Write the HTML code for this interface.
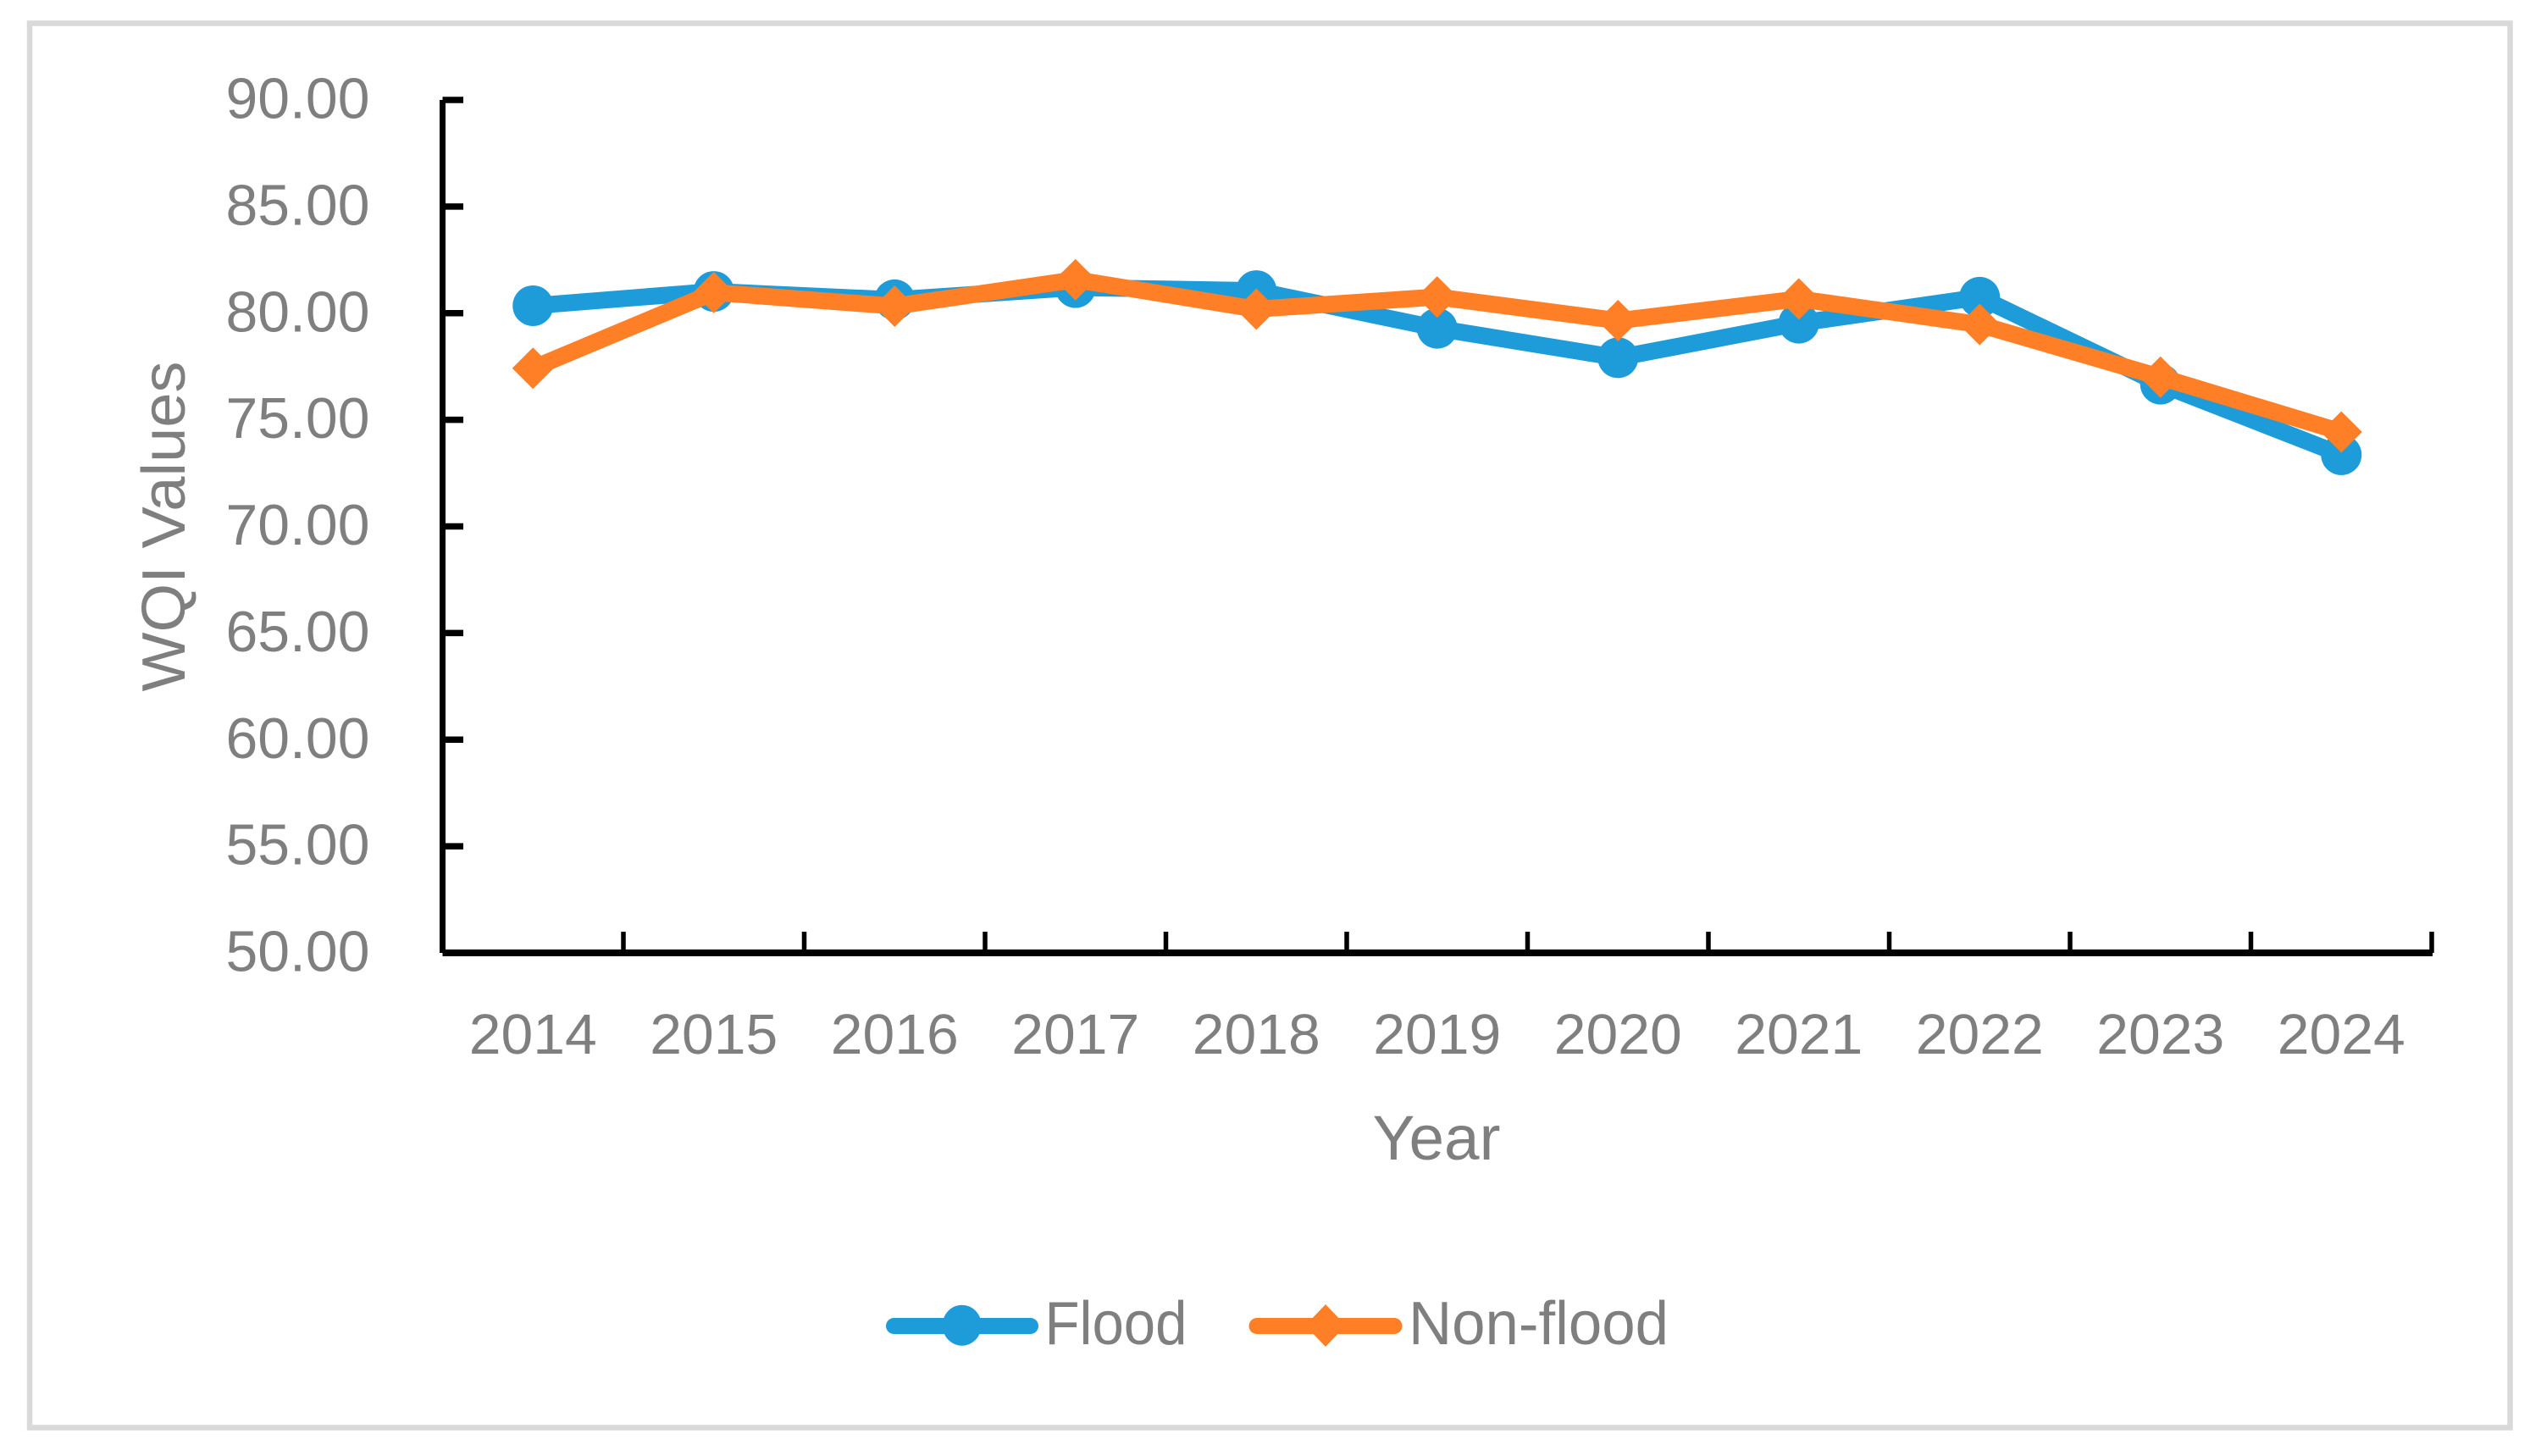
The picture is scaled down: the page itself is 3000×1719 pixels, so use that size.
<!DOCTYPE html>
<html lang="en">
<head>
<meta charset="utf-8">
<title>WQI Values by Year</title>
<style>
  html, body { margin: 0; padding: 0; background: #ffffff; }
  body { width: 3000px; height: 1719px; overflow: hidden; }
  svg { display: block; }
  text { font-family: "Liberation Sans", sans-serif; fill: #7f7f7f; }
</style>
</head>
<body>
<svg id="chart" xmlns="http://www.w3.org/2000/svg" width="3000" height="1719" viewBox="0 0 3000 1719">
  <rect x="0" y="0" width="3000" height="1719" fill="#ffffff"></rect>
  <rect x="35" y="27.5" width="2928.5" height="1658" fill="#ffffff" stroke="#d9d9d9" stroke-width="6.5"></rect>
  <text x="218" y="621.5" transform="rotate(-90 218 621.5)" text-anchor="middle" font-size="72" textLength="390" lengthAdjust="spacingAndGlyphs">WQI Values</text>
  <text x="1696" y="1369" text-anchor="middle" font-size="74" textLength="151" lengthAdjust="spacingAndGlyphs">Year</text>
  <g id="axes"></g>
  <g id="series"></g>
  <g>
    <g>
      <line x1="1055.5" y1="1565.5" x2="1216.5" y2="1565.5" stroke="#1e9cd9" stroke-width="19" stroke-linecap="round"></line>
      <ellipse cx="1135.7" cy="1564.7" rx="23" ry="24" fill="#1e9cd9"></ellipse>
      <text x="1233.5" y="1587" font-size="72" textLength="168" lengthAdjust="spacingAndGlyphs">Flood</text>
    </g>
    <g>
      <line x1="1484" y1="1565.5" x2="1646" y2="1565.5" stroke="#ff7f27" stroke-width="19" stroke-linecap="round"></line>
      <polygon points="1565,1540 1589,1565 1565,1590 1541,1565" fill="#ff7f27"></polygon>
      <text x="1663" y="1587" font-size="72" textLength="307" lengthAdjust="spacingAndGlyphs">Non-flood</text>
    </g>
  </g>
</svg>
<script>
const categories = ["2014","2015","2016","2017","2018","2019","2020","2021","2022","2023","2024"];
const floodValues = [80.35,81.02,80.63,81.2,81.06,79.29,77.91,79.53,80.75,76.67,73.36];
const nonFloodValues = [77.42,80.97,80.33,81.57,80.19,80.76,79.65,80.67,79.47,77.0,74.43];
const yTickValues = [50,55,60,65,70,75,80,85,90];

const NS = "http://www.w3.org/2000/svg";
const plotLeft = 522.5, plotRight = 2871, plotTop = 118, plotBottom = 1125;
const yMin = 50, yMax = 90;
const BLUE = "#1e9cd9", ORANGE = "#ff7f27";

function xScale(i) {
  return plotLeft + (i + 0.5) * (plotRight - plotLeft) / categories.length;
}
function xEdge(i) {
  return plotLeft + i * (plotRight - plotLeft) / categories.length;
}
function yScale(v) {
  return plotBottom - (v - yMin) / (yMax - yMin) * (plotBottom - plotTop);
}
function make(tag, attrs, parent) {
  const el = document.createElementNS(NS, tag);
  for (const k in attrs) el.setAttribute(k, attrs[k]);
  parent.appendChild(el);
  return el;
}

const axes = document.getElementById("axes");
const seriesGroup = document.getElementById("series");

const yAxisLine = make("line", {x1: plotLeft, y1: plotTop, x2: plotLeft, y2: plotBottom, stroke: "#000", "stroke-width": 7}, axes);



const xAxisLine = make("line", {x1: plotLeft, y1: plotBottom, x2: plotRight + 1, y2: plotBottom, stroke: "#000", "stroke-width": 8}, axes);



yTickValues.forEach(function (v) {
  const y = yScale(v);
  if (v !== yMin) {
    const tick = make("line", {x1: plotLeft, y1: y, x2: 547, y2: y, stroke: "#000", "stroke-width": 7.5}, axes);
    
    
  }
  const label = make("text", {x: 436.5, y: y + 21.5, "text-anchor": "end", "font-size": 68, textLength: 170, lengthAdjust: "spacingAndGlyphs"}, axes);
  label.textContent = v.toFixed(2);
  
  
});

for (let i = 1; i <= categories.length; i++) {
  const tick = make("line", {x1: xEdge(i), y1: 1100, x2: xEdge(i), y2: plotBottom, stroke: "#000", "stroke-width": 5.5}, axes);
  
  
}

categories.forEach(function (c, i) {
  const label = make("text", {x: xScale(i), y: 1244, "text-anchor": "middle", "font-size": 67, textLength: 151, lengthAdjust: "spacingAndGlyphs"}, axes);
  label.textContent = c;
  
  
});

function linePoints(values) {
  return values.map(function (v, i) { return xScale(i) + "," + yScale(v); }).join(" ");
}

const floodLine = make("polyline", {points: linePoints(floodValues), fill: "none", stroke: BLUE, "stroke-width": 20, "stroke-linecap": "round", "stroke-linejoin": "round"}, seriesGroup);



floodValues.forEach(function (v, i) {
  const dot = make("circle", {cx: xScale(i), cy: yScale(v), r: 24, fill: BLUE}, seriesGroup);
  
  
});

const nonFloodLine = make("polyline", {points: linePoints(nonFloodValues), fill: "none", stroke: ORANGE, "stroke-width": 20, "stroke-linecap": "round", "stroke-linejoin": "round"}, seriesGroup);



nonFloodValues.forEach(function (v, i) {
  const x = xScale(i), y = yScale(v), h = 24.5;
  const pts = x + "," + (y - h) + " " + (x + h) + "," + y + " " + x + "," + (y + h) + " " + (x - h) + "," + y;
  const diamond = make("polygon", {points: pts, fill: ORANGE}, seriesGroup);
  
  
});
</script>
</body>
</html>
